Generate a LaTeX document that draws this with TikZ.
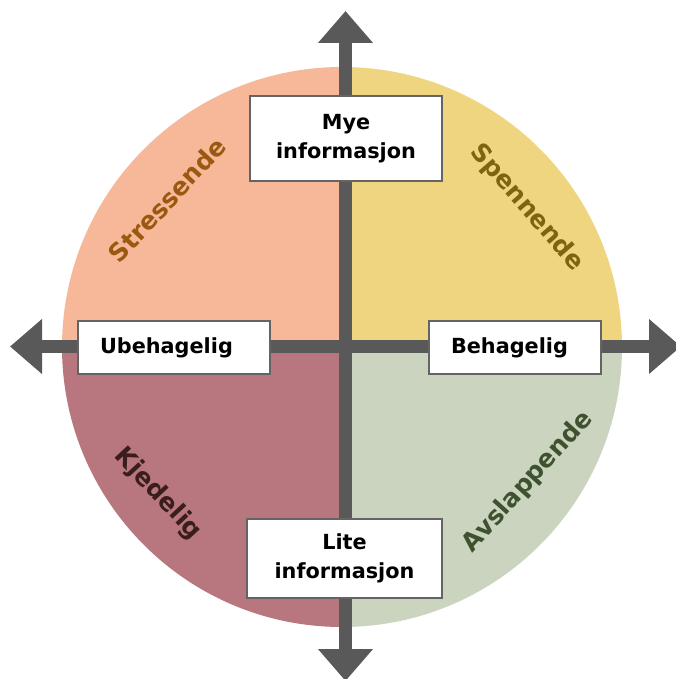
\documentclass[tikz,border=0pt]{standalone}
\usepackage{fontspec}
\setmainfont{DejaVu Sans}
\usetikzlibrary{arrows.meta}
\definecolor{qsalmon}{RGB}{246,184,152}
\definecolor{qyellow}{RGB}{240,213,128}
\definecolor{qmauve}{RGB}{184,118,126}
\definecolor{qsage}{RGB}{203,212,190}
\definecolor{axisgray}{RGB}{89,89,89}
\definecolor{boxgray}{RGB}{100,100,100}
\definecolor{tstress}{RGB}{154,88,16}
\definecolor{tspenn}{RGB}{126,100,16}
\definecolor{tkjed}{RGB}{58,30,30}
\definecolor{tavsl}{RGB}{62,82,48}
\tikzset{
  axisline/.style={draw=axisgray, line width=13pt,
    {Triangle[length=32pt,width=53pt]}-{Triangle[length=32pt,width=53pt]}},
  labelbox/.style={draw=boxgray, line width=2pt, fill=white, font=\bfseries\fontsize{20.8}{29}\selectfont, align=center, inner sep=0pt},
  quadlabel/.style={font=\bfseries\fontsize{25}{29}\selectfont, inner sep=0pt}
}
\begin{document}
\begin{tikzpicture}[x=1pt,y=-1pt]
\useasboundingbox (0,0) rectangle (675,679);
\coordinate (C) at (342,347);
\begin{scope}
  \clip (C) circle[radius=280pt];
  \fill[qsalmon] (C) rectangle (0,0);
  \fill[qyellow] (C) rectangle (675,0);
  \fill[qmauve] (C) rectangle (0,679);
  \fill[qsage] (C) rectangle (675,679);
\end{scope}
\coordinate (top) at (345.5,11);
\coordinate (bot) at (345.5,681);
\coordinate (lft) at (10,346.5);
\coordinate (rgt) at (681,346.5);
\draw[axisline] (bot) -- (top);
\draw[axisline] (lft) -- (rgt);
\node[labelbox, minimum width=192pt, minimum height=85pt] (mye) at (346,138.5) {Mye\\informasjon};
\node[labelbox, minimum width=195pt, minimum height=79pt] (lite) at (344.5,558.5) {Lite\\informasjon};
\node[labelbox, minimum width=192pt, minimum height=53pt, text width=148pt, align=left] (ubeh) at (174,347.5) {Ubehagelig};
\node[labelbox, minimum width=172pt, minimum height=53pt, text width=128pt, align=left] (beh) at (515,347.5) {Behagelig};
\node[quadlabel, text=tstress, rotate=47] (stress) at (167,200) {Stressende};
\node[quadlabel, text=tspenn, rotate=-49] (spenn) at (527,208) {Spennende};
\node[quadlabel, text=tkjed, rotate=-47] (kjed) at (158,494) {Kjedelig};
\node[quadlabel, text=tavsl, rotate=48] (avsl) at (528,482) {Avslappende};
\end{tikzpicture}
\end{document}
